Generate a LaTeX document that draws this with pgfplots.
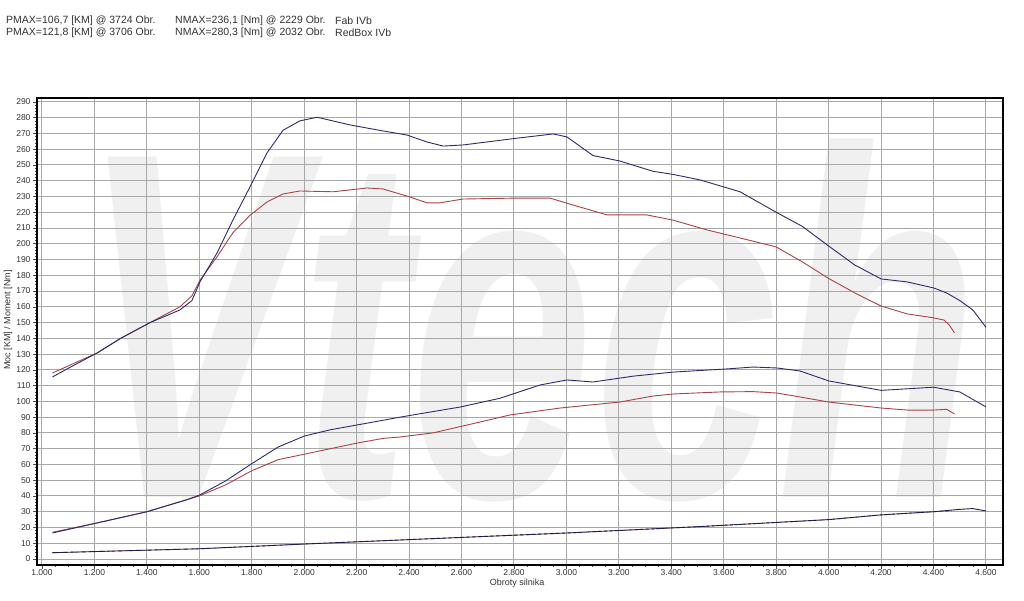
\documentclass[border=0pt]{standalone}
\usepackage{fontspec}
\setmainfont{Liberation Sans}
\usepackage{pgfplots}
\pgfplotsset{compat=1.18}
\definecolor{blueline}{HTML}{2B2B6E}
\definecolor{redline}{HTML}{A84444}
\definecolor{gridc}{HTML}{A8A8A8}
\definecolor{txt}{HTML}{333333}
\begin{document}
\begin{tikzpicture}[x=1pt,y=1pt]
\path (0,0) rectangle (1024,601);
\begin{scope}[font=\fontsize{10.5}{12}\selectfont, text=txt]
\node[anchor=west, inner sep=0] at (6,580.5) {PMAX=106,7 [KM] @ 3724 Obr.};
\node[anchor=west, inner sep=0] at (6,568) {PMAX=121,8 [KM] @ 3706 Obr.};
\node[anchor=west, inner sep=0] at (175,580.5) {NMAX=236,1 [Nm] @ 2229 Obr.};
\node[anchor=west, inner sep=0] at (175,568) {NMAX=280,3 [Nm] @ 2032 Obr.};
\node[anchor=west, inner sep=0] at (335,580.5) {Fab IVb};
\node[anchor=west, inner sep=0] at (335,568) {RedBox IVb};
\end{scope}
\begin{axis}[
  at={(37pt,36pt)}, anchor=south west,
  scale only axis, width=966pt, height=467pt,
  set layers=standard,
  xmin=981, xmax=4665, ymin=-3.8, ymax=292.5,
  xtick={1000,1200,...,4600},
  xticklabels={1.000,1.200,1.400,1.600,1.800,2.000,2.200,2.400,2.600,2.800,3.000,3.200,3.400,3.600,3.800,4.000,4.200,4.400,4.600},
  ytick={0,10,...,290},
  minor x tick num=3, minor y tick num=4,
  tick pos=left, tick align=outside,
  major tick length=4pt, minor tick length=2pt,
  every tick/.style={black!70, line width=0.6pt},
  grid=major,
  major grid style={gridc, line width=1pt},
  axis line style={black, line width=1.4pt},
  /pgf/number format/assume math mode=true,
  ticklabel style={font=\fontsize{8.5}{9}\selectfont, text=txt},
  xticklabel style={yshift=2.5pt},
  yticklabel style={xshift=1pt},
  xlabel={Obroty silnika},
  ylabel={Moc [KM] / Moment [Nm]},
  label style={font=\fontsize{9}{10}\selectfont, text=txt},
  xlabel style={at={(axis description cs:0.497,-0.038)}, anchor=center},
  ylabel style={at={(axis description cs:-0.030,0.525)}, anchor=center},
]
\begin{pgfonlayer}{axis background}
\node[text=black!6, font=\fontsize{330}{330}\selectfont\bfseries\itshape, yscale=1.5, inner sep=0] at (axis cs:2861,151) {Vtech};
\end{pgfonlayer}
% Fab torque (red)
\addplot[redline, line width=0.9pt] coordinates {
(1040,118) (1100,122.5) (1210,130.7) (1300,140) (1412,150) (1526,160) (1572,167) (1603,177) (1667,191.6) (1728,207) (1793,218) (1858,226.5) (1919,231.6) (1984,233.5) (2110,233) (2240,235.4) (2300,234.8) (2403,229.7) (2468,226) (2518,226) (2606,228.4) (2812,229) (2937,229) (3025,224.6) (3155,218.3) (3307,218.3) (3407,215) (3536,208.8) (3662,203.7) (3800,198) (3900,188.5) (4000,178) (4100,168.8) (4200,160.5) (4300,155.5) (4400,153) (4440,151.6) (4460,148.5) (4480,143.4)};
% RedBox torque (blue)
\addplot[blueline, line width=0.9pt] coordinates {
(1040,115.5) (1100,121) (1210,130.7) (1300,140) (1412,150) (1526,158) (1572,164) (1603,176) (1667,194) (1728,215) (1793,236) (1858,257.6) (1919,272) (1984,278) (2049,280.3) (2175,275.4) (2300,271.6) (2392,269) (2468,264.6) (2530,262) (2606,262.7) (2812,267) (2950,269.7) (3002,267.8) (3101,256) (3204,252.5) (3330,246) (3407,244) (3510,240.5) (3662,233) (3800,220) (3900,211) (4000,198.6) (4100,186.5) (4200,177.7) (4300,175.8) (4400,172) (4450,168.8) (4500,164) (4550,158) (4600,147)};
% Fab power (red)
\addplot[redline, line width=0.9pt] coordinates {
(1040,17) (1200,22.5) (1400,30) (1550,37.5) (1600,40) (1700,47) (1800,56) (1900,63) (2000,66.5) (2100,70) (2200,73.5) (2300,76.5) (2365,77.4) (2491,80) (2621,85) (2785,91.4) (2976,95.8) (3204,99.6) (3330,103.4) (3407,104.7) (3586,106) (3712,106.2) (3803,105.3) (3891,102.8) (4000,99.6) (4100,97.7) (4200,95.8) (4300,94.5) (4400,94.5) (4450,95) (4480,92)};
% RedBox power (blue)
\addplot[blueline, line width=0.9pt] coordinates {
(1040,16.5) (1200,22.5) (1400,30) (1550,37.5) (1600,40.5) (1700,49.5) (1800,60.5) (1900,71) (2000,78) (2100,82) (2200,85) (2300,88) (2365,90) (2594,96.4) (2747,102) (2899,110.4) (3002,113.6) (3101,112.3) (3254,116) (3407,118.6) (3612,120.6) (3712,121.8) (3803,121.2) (3891,119.3) (4000,113) (4100,110) (4200,107) (4300,108) (4400,109) (4500,106) (4600,96.5)};
% bottom lines
\addplot[redline, line width=0.9pt, dashed] coordinates {
(1040,4) (1600,6.5) (2000,9.5) (2500,13) (3000,16.5) (3500,20.5) (4000,25) (4200,28) (4400,30) (4470,30.5)};
\addplot[blueline!70!black, line width=0.9pt] coordinates {
(1040,4) (1600,6.5) (2000,9.5) (2500,13) (3000,16.5) (3500,20.5) (4000,25) (4200,28) (4400,30) (4500,31.5) (4550,32) (4600,30.5)};
\end{axis}
\end{tikzpicture}
\end{document}
